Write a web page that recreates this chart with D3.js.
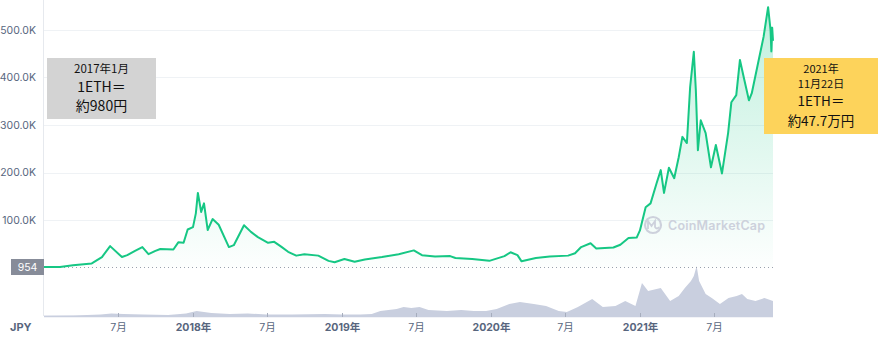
<!DOCTYPE html>
<html><head><meta charset="utf-8">
<script src="https://cdn.jsdelivr.net/npm/d3@7"></script>
<style>
html,body{margin:0;padding:0;background:#fff;}
svg{display:block;}
</style></head>
<body>
<svg id="chart" width="878" height="353"></svg>
<script>
// ---- data ----
const priceDates = ["2017-01-01","2017-02-09","2017-03-13","2017-04-28","2017-05-23","2017-06-12","2017-07-11","2017-07-24","2017-08-12","2017-08-30","2017-09-14","2017-10-01","2017-10-13","2017-11-14","2017-11-26","2017-12-09","2017-12-19","2018-01-01","2018-01-08","2018-01-13","2018-01-21","2018-01-28","2018-02-06","2018-02-18","2018-03-05","2018-03-30","2018-04-11","2018-05-06","2018-05-23","2018-06-09","2018-07-04","2018-07-19","2018-08-05","2018-08-22","2018-09-11","2018-10-01","2018-11-04","2018-11-29","2018-12-14","2019-01-07","2019-02-01","2019-02-26","2019-04-09","2019-05-20","2019-06-26","2019-07-16","2019-08-17","2019-09-23","2019-10-06","2019-11-16","2019-12-28","2020-02-03","2020-02-18","2020-03-06","2020-03-16","2020-04-20","2020-05-24","2020-07-08","2020-07-25","2020-08-09","2020-09-01","2020-09-15","2020-10-27","2020-11-13","2020-12-03","2020-12-23","2020-12-31","2021-01-14","2021-01-26","2021-02-10","2021-02-20","2021-02-28","2021-03-12","2021-03-25","2021-04-05","2021-04-14","2021-04-25","2021-05-03","2021-05-12","2021-05-17","2021-05-22","2021-05-29","2021-06-10","2021-06-23","2021-07-05","2021-07-20","2021-08-04","2021-08-12","2021-08-24","2021-09-02","2021-09-12","2021-09-24","2021-10-01","2021-10-18","2021-10-30","2021-11-10","2021-11-16","2021-11-18","2021-11-20","2021-11-22"];
const priceValues = [980,1300,4500,8500,22000,45000,22000,26000,35000,43000,28000,35000,39000,38000,53000,52000,80000,85000,114000,157000,117000,135000,79000,102000,90000,43000,47000,89000,75000,64000,52000,54000,44000,33000,25000,28000,25000,14000,11000,18000,12000,17000,22000,28000,36000,26000,23000,24000,20000,18000,14000,24000,32000,26000,13000,20000,23000,25000,30000,43000,51000,40000,42000,48000,62000,63000,78000,127000,135000,178000,205000,157000,210000,188000,232000,275000,262000,380000,454000,373000,247000,310000,283000,211000,258000,198000,283000,348000,363000,437000,398000,352000,367000,437000,486000,548000,500000,455000,505000,477000];

const volumeDates = ["2017-01-01","2017-03-15","2017-05-20","2017-06-15","2017-07-15","2017-09-01","2017-11-01","2017-12-15","2018-01-10","2018-02-15","2018-04-01","2018-05-15","2018-07-01","2018-09-01","2018-11-20","2019-01-01","2019-02-15","2019-03-15","2019-04-05","2019-05-15","2019-06-01","2019-06-20","2019-07-10","2019-08-01","2019-09-15","2019-10-20","2019-11-20","2019-12-20","2020-01-15","2020-02-15","2020-03-12","2020-04-15","2020-05-15","2020-06-15","2020-07-05","2020-08-01","2020-09-05","2020-10-01","2020-11-01","2020-11-25","2020-12-20","2021-01-05","2021-01-20","2021-02-20","2021-03-15","2021-04-05","2021-04-20","2021-05-05","2021-05-12","2021-05-19","2021-05-25","2021-06-10","2021-06-25","2021-07-15","2021-08-05","2021-08-25","2021-09-07","2021-09-20","2021-10-10","2021-11-01","2021-11-22"];
const volumeValues = [0.3,0.5,1.5,2.5,2,1.5,1,2.5,5,3,2,2.5,1.5,1.5,2,1.5,1.5,2,5,7,9,8,9,6,5,6,5,5,7,12,14,12,10,5,4,9,17,9,10,15,10,33,25,28,15,20,28,35,40,50,35,22,18,12,18,20,22,17,15,18,15];

const yTicks = [100000,200000,300000,400000,500000];
const yTickLabels = ["100.0K","200.0K","300.0K","400.0K","500.0K"];
const xTickDates = ["2017-07-01","2018-01-01","2018-07-01","2019-01-01","2019-07-01","2020-01-01","2020-07-01","2021-01-01","2021-07-01"];
const xTickLabels = ["7月","2018年","7月","2019年","7月","2020年","7月","2021年","7月"];
const minPriceLabel = "954";
const currencyLabel = "JPY";
const noteLeft = ["2017年1月","1ETH＝","約980円"];
const noteRight = ["2021年","11月22日","1ETH＝","約47.7万円"];

// ---- drawing ----
const parse = d3.timeParse("%Y-%m-%d");
const price = priceDates.map((d,i)=>({date:parse(d), v:priceValues[i]}));
const volume = volumeDates.map((d,i)=>({date:parse(d), v:volumeValues[i]}));

const svg = d3.select("#chart");
const left = 44, right = 773;
const x = d3.scaleTime().domain([parse("2017-01-01"), parse("2021-11-22")]).range([left, right]);
const y = d3.scaleLinear().domain([0, 500000]).range([267.5, 30]);
const volBase = 316;
const yv = d3.scaleLinear().domain([0, 50]).range([volBase, 266]);

const defs = svg.append("defs");
const grad = defs.append("linearGradient").attr("id","fillg")
  .attr("gradientUnits","userSpaceOnUse").attr("x1",0).attr("x2",0).attr("y1",0).attr("y2",267);
grad.append("stop").attr("offset","0%").attr("stop-color","#16c784").attr("stop-opacity",0.28);
grad.append("stop").attr("offset","100%").attr("stop-color","#16c784").attr("stop-opacity",0.01);

const labelFont = "Inter, 'Noto Sans CJK JP', sans-serif";
const gray = "#58667e";

// grid lines
svg.append("g").selectAll("line").data(yTicks).join("line")
  .attr("x1", left).attr("x2", right)
  .attr("y1", d=>Math.round(y(d))+0.5).attr("y2", d=>Math.round(y(d))+0.5)
  .attr("stroke","#eff2f5").attr("stroke-width",1);

// y labels
svg.append("g").selectAll("text").data(yTicks).join("text")
  .attr("x", 36).attr("y", d=>y(d)).attr("dy","0.35em")
  .attr("text-anchor","end").attr("font-family",labelFont).attr("font-size",10.5)
  .attr("fill",gray).text((d,i)=>yTickLabels[i]);

// left axis line
svg.append("line").attr("x1",left-0.5).attr("x2",left-0.5).attr("y1",0).attr("y2",volBase)
  .attr("stroke","#e6e9ee").attr("stroke-width",1);

// volume
svg.append("path").datum(volume)
  .attr("d", d3.area().x(d=>x(d.date)).y0(volBase).y1(d=>yv(d.v)))
  .attr("fill","#c9cfdf");
svg.append("line").attr("x1",left).attr("x2",right).attr("y1",volBase+0.5).attr("y2",volBase+0.5)
  .attr("stroke","#c9cfdf").attr("stroke-width",1.5);

// min dotted line
const minY = 267.5;
svg.append("line").attr("x1",left).attr("x2",right).attr("y1",minY).attr("y2",minY)
  .attr("stroke","#9aa0ad").attr("stroke-width",1).attr("stroke-dasharray","1,3");

// area + line
svg.append("path").datum(price)
  .attr("d", d3.area().x(d=>x(d.date)).y0(minY).y1(d=>y(d.v)))
  .attr("fill","url(#fillg)");
svg.append("path").datum(price)
  .attr("d", d3.line().x(d=>x(d.date)).y(d=>y(d.v)))
  .attr("fill","none").attr("stroke","#16c784").attr("stroke-width",2).attr("stroke-linejoin","round");

// watermark
const wm = svg.append("g");
wm.append("circle").attr("cx",653).attr("cy",225).attr("r",8).attr("fill","none").attr("stroke","#cdd1dc").attr("stroke-width",2.2);
wm.append("path").attr("d","M648,229 L648,221 L651.5,226 L655,221 L655,227 Q657,230 659,227")
  .attr("fill","none").attr("stroke","#cdd1dc").attr("stroke-width",1.8);
wm.append("text").attr("x",668).attr("y",230).attr("font-family","Inter, sans-serif").attr("font-size",12.5)
  .attr("font-weight",600).attr("fill","#cdd1dc").attr("textLength",97).text("CoinMarketCap");

// min price label
svg.append("rect").attr("x",11).attr("y",259).attr("width",33).attr("height",16).attr("fill","#878c99");
svg.append("text").attr("x",27.5).attr("y",267.5).attr("dy","0.35em").attr("text-anchor","middle")
  .attr("font-family",labelFont).attr("font-size",10.5).attr("fill","#fff").text(minPriceLabel);

// x ticks
const xt = svg.append("g");
xTickDates.forEach((d,i)=>{
  const px = Math.round(x(parse(d)))+0.5;
  xt.append("line").attr("x1",px).attr("x2",px).attr("y1",volBase-3).attr("y2",volBase+1)
    .attr("stroke","#a6adbd").attr("stroke-width",1);
  const isYear = xTickLabels[i].includes("年");
  xt.append("text").attr("x",px).attr("y",327).attr("dy","0.35em").attr("text-anchor","middle")
    .attr("font-family",labelFont).attr("font-size",10.5).attr("font-weight",isYear?700:400)
    .attr("fill",gray).text(xTickLabels[i]);
});
svg.append("text").attr("x",10).attr("y",327).attr("dy","0.35em")
  .attr("font-family",labelFont).attr("font-size",11).attr("font-weight",700)
  .attr("fill",gray).text(currencyLabel);

// annotations
const jp = "'Noto Sans CJK JP', sans-serif";
svg.append("rect").attr("x",47).attr("y",58).attr("width",109).attr("height",61).attr("fill","#d3d3d3");
[[noteLeft[0],69,11.5],[noteLeft[1],87.5,14],[noteLeft[2],106,14]].forEach(([t,yy,fs])=>{
  svg.append("text").attr("x",101.5).attr("y",yy).attr("dy","0.35em").attr("text-anchor","middle")
    .attr("font-family",jp).attr("font-size",fs).attr("fill","#111").text(t);
});
svg.append("rect").attr("x",764).attr("y",58).attr("width",114).attr("height",76).attr("fill","#fdd35b");
[[noteRight[0],69,11],[noteRight[1],84,11],[noteRight[2],101.5,13.5],[noteRight[3],121,13.5]].forEach(([t,yy,fs])=>{
  svg.append("text").attr("x",821).attr("y",yy).attr("dy","0.35em").attr("text-anchor","middle")
    .attr("font-family",jp).attr("font-size",fs).attr("fill","#111").text(t);
});
</script>
</body></html>
